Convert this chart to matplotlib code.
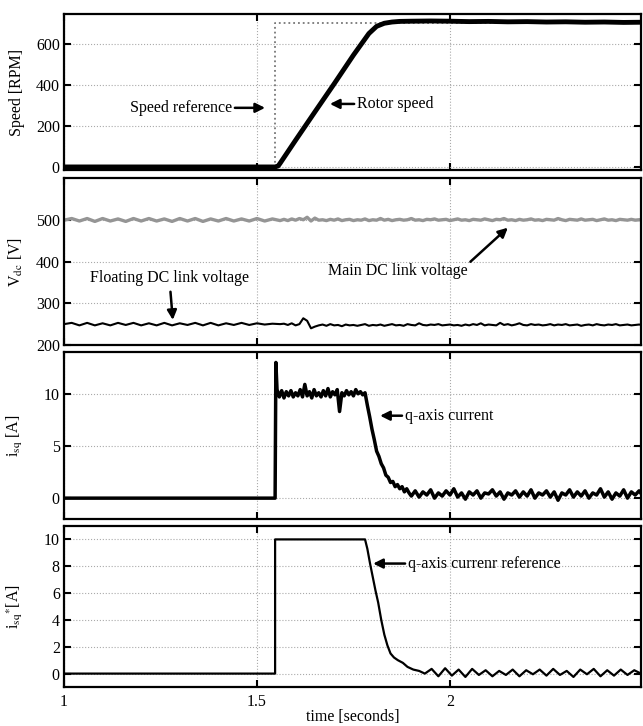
import numpy as np
import matplotlib
matplotlib.use("Agg")
import matplotlib.pyplot as plt

plt.rcParams['font.family'] = ['Liberation Serif', 'DejaVu Serif']
plt.rcParams['mathtext.fontset'] = 'stix'
plt.rcParams['font.size'] = 11.5

# ---- panel 1: speed ----
speed_ref_t = [1.0, 1.547, 1.547, 2.5]
speed_ref = [0, 0, 700, 700]
rotor_t = [1.0, 1.547, 1.555, 1.56, 1.60, 1.65, 1.70, 1.75, 1.79, 1.81, 1.83, 1.85,
           1.87, 1.90, 1.95, 2.0, 2.05, 2.1, 2.15, 2.2, 2.25, 2.3, 2.35, 2.4, 2.45, 2.5]
rotor_speed = [0, 0, 5, 18, 130, 268, 405, 545, 650, 685, 700, 706,
               709, 710, 711, 710, 708, 709, 707, 708, 706, 707, 705, 706, 704, 705]

# ---- panel 2: DC link voltages ----
dc_t = np.concatenate([np.linspace(1.0, 1.56, 29), np.linspace(1.57, 2.50, 94)])
main_dc = [499, 503, 497, 503, 496, 503, 497, 502, 496, 503,
           497, 503, 497, 502, 496, 503, 497, 503, 496, 502,
           497, 503, 497, 502, 497, 503, 497, 502, 498,
           501, 498, 502, 499, 503, 500, 506, 497, 504, 499,
           500, 498, 501, 499, 502, 498, 500, 501, 498, 500,
           499, 502, 498, 500, 499, 503, 499, 501, 498, 500,
           501, 499, 500, 503, 499, 500, 498, 501, 500, 502,
           499, 500, 501, 498, 500, 502, 499, 500, 498, 501,
           500, 499, 502, 500, 498, 501, 500, 503, 499, 500,
           498, 501, 499, 500, 502, 499, 500, 498, 501, 500,
           499, 503, 500, 498, 501, 500, 499, 502, 499, 500,
           501, 498, 500, 502, 499, 500, 498, 501, 500, 499,
           501, 499, 500, 500]
floating_dc = [250, 253, 247, 253, 247, 252, 247, 253, 248, 253,
               247, 252, 247, 253, 247, 252, 248, 253, 247, 253,
               247, 252, 248, 253, 248, 252, 249, 251, 250,
               251, 248, 252, 247, 250, 264, 258, 240, 244, 247,
               249, 246, 250, 247, 248, 245, 249, 247, 248, 246,
               248, 250, 246, 248, 247, 249, 246, 248, 250, 247,
               248, 246, 250, 248, 247, 252, 248, 247, 249, 248,
               250, 247, 248, 249, 247, 248, 246, 249, 247, 250,
               248, 252, 247, 249, 248, 247, 253, 248, 250, 247,
               249, 252, 248, 247, 250, 248, 249, 247, 248, 250,
               247, 249, 248, 250, 247, 248, 249, 246, 248, 249,
               247, 250, 248, 247, 249, 248, 250, 247, 248, 249,
               247, 248, 249, 248]

# ---- panel 3: q-axis current ----
isq_t = np.concatenate([[1.0, 1.547, 1.549],
                        np.linspace(1.552, 1.780, 39),
                        np.linspace(1.786, 1.894, 19),
                        np.linspace(1.90, 2.50, 61)])
isq = [0, 0, 13.0,
       10.4, 9.7, 10.3, 9.6, 10.2, 9.8, 10.3, 9.7, 10.1, 9.8,
       10.4, 9.7, 10.9, 9.8, 10.2, 9.6, 10.4, 9.8, 10.1, 9.7,
       10.3, 9.8, 10.5, 9.7, 10.2, 9.9, 10.4, 8.3, 10.1, 9.8,
       10.3, 9.9, 10.2, 9.8, 10.4, 10.0, 10.2, 9.9, 10.1,
       8.9, 7.8, 6.6, 5.6, 4.5, 4.0, 3.3, 2.9, 2.2, 2.0,
       1.5, 1.6, 1.1, 1.3, 0.9, 1.1, 0.6, 0.9, 0.5,
       0.2, 0.7, 0.1, 0.6, 0.3, 0.8, 0.0, 0.5, 0.2, 0.7,
       0.3, 0.9, 0.1, 0.5, -0.1, 0.6, 0.3, 0.7, 0.0, 0.5,
       0.4, 0.8, 0.2, 0.6, -0.1, 0.5, 0.3, 0.7, 0.1, 0.6,
       0.2, 0.8, 0.0, 0.5, 0.3, 0.7, 0.1, 0.6, -0.2, 0.5,
       0.3, 0.8, 0.1, 0.6, 0.2, 0.7, 0.0, 0.5, 0.3, 0.9,
       0.1, 0.6, -0.1, 0.5, 0.2, 0.8, 0.0, 0.6, 0.3, 0.7,
       0.2]

# ---- panel 4: q-axis current reference ----
isq_ref_t = np.concatenate([[1.0, 1.547, 1.547, 1.780, 1.786, 1.793, 1.800, 1.807, 1.814,
                             1.822, 1.830, 1.838, 1.846, 1.855, 1.865, 1.878, 1.890,
                             1.905, 1.920],
                            np.linspace(1.935, 2.495, 33)])
isq_ref = [0, 0, 10, 10, 9.3, 8.2, 7.2, 6.2, 5.3,
           4.0, 2.9, 2.1, 1.5, 1.2, 1.0, 0.8, 0.5, 0.3, 0.2,
           0.0, 0.35, -0.2, 0.4, -0.15, 0.3, -0.25, 0.35, -0.1, 0.25,
           -0.2, 0.2, -0.1, 0.3, -0.2, 0.25, -0.05, 0.3, -0.15, 0.35,
           -0.1, 0.2, -0.25, 0.3, -0.05, 0.35, -0.2, 0.25, -0.15, 0.3,
           -0.1, 0.25, 0.0]

x_ticks = [1, 1.5, 2]
x_tick_labels = ['1', '1.5', '2']

fig = plt.figure(figsize=(6.43, 7.26), dpi=100)
left, width = 0.0995, 0.8974
ax1 = fig.add_axes([left, 0.7658, width, 0.2149])
ax2 = fig.add_axes([left, 0.5248, width, 0.2300])
ax3 = fig.add_axes([left, 0.2851, width, 0.2300])
ax4 = fig.add_axes([left, 0.0537, width, 0.2218])
axes = [ax1, ax2, ax3, ax4]

ax1.plot(speed_ref_t, speed_ref, color='#777777', ls=':', lw=1.3)
ax1.plot(rotor_t, rotor_speed, color='k', lw=3.5, solid_joinstyle='round')
ax1.set_ylim(-15, 745)
ax1.set_yticks([0, 200, 400, 600])
ax1.set_ylabel('Speed [RPM]')

ax2.plot(dc_t, main_dc, color='#959595', lw=2.4)
ax2.plot(dc_t, floating_dc, color='k', lw=1.5)
ax2.set_ylim(200, 600)
ax2.set_yticks([200, 300, 400, 500])
ax2.set_ylabel(r'V$_{\mathrm{dc}}$ [V]')

ax3.plot(isq_t, isq, color='k', lw=2.5)
ax3.set_ylim(-2, 14)
ax3.set_yticks([0, 5, 10])
ax3.set_ylabel(r'i$_{\mathrm{sq}}$ [A]')

ax4.plot(isq_ref_t, isq_ref, color='k', lw=1.6)
ax4.set_ylim(-1, 11)
ax4.set_yticks([0, 2, 4, 6, 8, 10])
ax4.set_ylabel(r'i$_{\mathrm{sq}}$$^{*}$[A]')
ax4.set_xlabel('time [seconds]', labelpad=-1)

for ax in axes:
    ax.set_xlim(1, 2.495)
    ax.set_xticks(x_ticks)
    ax.grid(True, ls=':', color='#aaaaaa', lw=0.8)
    ax.tick_params(direction='in', top=True, right=True, length=5, width=1.5, pad=3)
    for s in ax.spines.values():
        s.set_linewidth(1.6)
    ax.yaxis.set_label_coords(-0.068, 0.5)
for ax in axes[:3]:
    ax.set_xticklabels([])
ax4.set_xticklabels(x_tick_labels)
ax4.tick_params(axis='x', pad=5)

arrow = dict(arrowstyle='-|>', color='k', lw=1.8, mutation_scale=14)

ax1.annotate('Speed reference', xy=(1.521, 288), xytext=(1.171, 288), ha='left', va='center',
             arrowprops=dict(arrow, relpos=(1.0, 0.5), shrinkA=0, shrinkB=0))
ax1.annotate('Rotor speed', xy=(1.689, 307), xytext=(1.759, 307), ha='left', va='center',
             arrowprops=dict(arrow, relpos=(0.0, 0.5), shrinkA=0, shrinkB=0))
ax2.annotate('Floating DC link voltage', xy=(1.282, 260), xytext=(1.067, 360), ha='left', va='center',
             arrowprops=dict(arrow, shrinkA=2, shrinkB=0))
ax2.annotate('Main DC link voltage', xy=(2.150, 481), xytext=(1.684, 378), ha='left', va='center',
             arrowprops=dict(arrow, relpos=(1.0, 0.9), shrinkA=0, shrinkB=0))
ax3.annotate('q-axis current', xy=(1.819, 7.9), xytext=(1.883, 7.9), ha='left', va='center',
             arrowprops=dict(arrow, relpos=(0.0, 0.5), shrinkA=0, shrinkB=0))
ax4.annotate('q-axis currenr reference', xy=(1.801, 8.2), xytext=(1.891, 8.2), ha='left', va='center',
             arrowprops=dict(arrow, relpos=(0.0, 0.5), shrinkA=0, shrinkB=0))

fig.savefig('out.png', dpi=100)
